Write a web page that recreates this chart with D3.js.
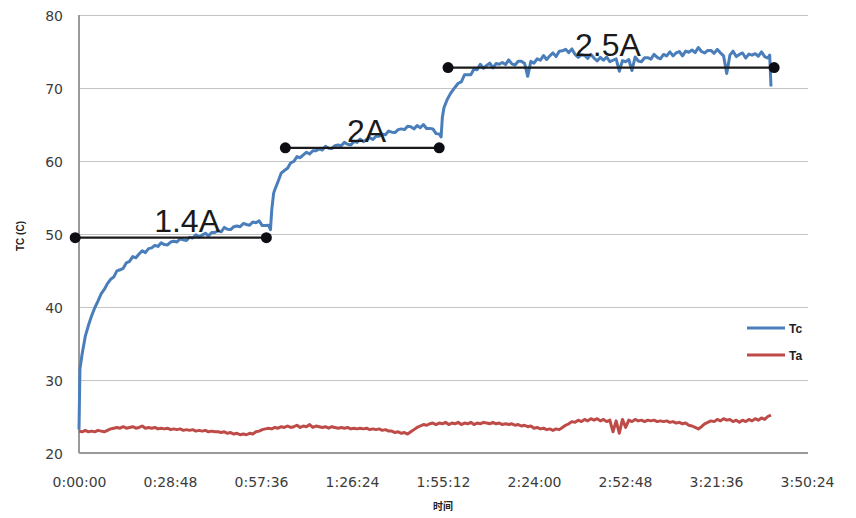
<!DOCTYPE html>
<html>
<head>
<meta charset="utf-8">
<script src="https://cdn.jsdelivr.net/npm/d3@7"></script>
<style>
  html, body { margin: 0; padding: 0; background: #fff; }
  svg { display: block; }
</style>
</head>
<body>
<svg id="chart" width="856" height="518"></svg>
<script>
// ---------- DATA (time in minutes, temperature in °C) ----------
const yTicks = [20, 30, 40, 50, 60, 70, 80];
const xTickMinutes = [0, 28.8, 57.6, 86.4, 115.2, 144, 172.8, 201.6, 230.4];
const xTickLabels = ["0:00:00", "0:28:48", "0:57:36", "1:26:24", "1:55:12", "2:24:00", "2:52:48", "3:21:36", "3:50:24"];

const tcData = [[0,23.2],[0.3,31.5],[1,33.6],[2,36.0],[3,37.5],[4,38.8],[5,39.9],[6,40.8],[7,41.8],[8,42.4],[9,43.2],
[10,43.8],[11,44.1],[12,44.95],[13,45.1],[14,45.3],[15,46.05],[16,46.25],[17,46.9],[18,46.75],[19,47.25],[20,47.7],[21,47.45],[22,48.0],[23,48.1],[24,48.45],[25,48.3],[26,48.8],[27,48.55],[28,48.5],[29,48.9],[30,49.0],[31,48.9],[32,49.35],[33,49.2],[34,49.1],[35,49.55],[36,49.45],[37,49.9],[38,49.55],[39,49.85],[40,50.1],[41,49.75],[42,50.2],[43,50.2],[44,50.45],[45,50.3],[46,50.9],[47,50.65],[48,50.6],[49,51.0],[50,51.1],[51,51.0],[52,51.45],[53,51.3],[54,51.2],[55,51.65],[56,51.55],[57,51.8],[58,51.15],[59,51.15],[60,51.2],[60.6,50.6],
[61,53.3],[61.6,55.6],[62,56.1],[63,57.2],[64,58.35],[65,58.7],[66,59.0],[67,59.75],[68,59.95],[69,60.6],[70,60.45],[71,60.85],[72,61.2],[73,60.95],[74,61.4],[75,61.4],[76,61.65],[77,61.5],[78,62.0],[79,61.75],[80,61.7],[81,62.1],[82,62.2],[83,62.1],[84,62.55],[85,62.3],[86,62.2],[87,62.65],[88,62.55],[89,63.0],[90,62.65],[91,62.95],[92,63.2],[93,62.95],[94,63.4],[95,63.4],[96,63.65],[97,63.6],[98,64.1],[99,63.95],[100,63.9],[101,64.3],[102,64.4],[103,64.3],[104,64.75],[105,64.7],[106,64.4],[107,64.85],[108,64.55],[109,65.0],[110,64.45],[111,64.45],[112,64.4],[113,63.75],[114,63.7],[114.6,63.3],
[115,66.0],[115.5,67.3],[116.5,68.4],[117.5,69.2],[118.5,69.8],[120,70.65],[121,70.85],[122,71.8],[123,71.8],[124,71.8],[125,72.6],[126,72.5],[127,73.25],[128,72.7],[129,73.1],[130,73.4],[131,72.75],[132,73.35],[133,73.25],[134,73.5],[135,73.2],[136,73.85],[137,73.3],[138,73.15],[139,73.65],[140,73.65],[141,73.4],[142,71.6],[143,73.65],[144,73.4],[145,74.0],[146,73.8],[147,74.45],[148,73.9],[149,74.4],[150,74.8],[151,74.3],[152,75.05],[153,75.1],[154,75.3],[155,74.85],[156,75.35],[157,74.6],[158,74.2],[159,74.55],[160,74.45],[161,74.05],[162,74.6],[163,74.1],[164,73.7],[165,74.2],[166,73.8],[167,74.25],[168,73.6],[169,73.8],[170,74.0],[171,72.3],[172,73.75],[173,73.6],[174,73.9],[175,72.4],[176,74.25],[177,73.7],[178,73.6],[179,74.15],[180,74.15],[181,73.95],[182,74.6],[183,74.2],[184,74.0],[185,74.6],[186,74.4],[187,74.95],[188,74.4],[189,74.8],[190,75.0],[191,74.4],[192,75.05],[193,74.9],[194,75.2],[195,74.85],[196,75.55],[197,75.0],[198,74.8],[199,75.15],[200,75.15],[201,74.75],[202,75.3],[203,74.8],[204,74.4],[205,72.0],[206,74.5],[207,75.05],[208,74.3],[209,74.6],[210,74.8],[211,74.1],[212,74.65],[213,74.5],[214,74.7],[215,74.35],[216,74.95],[217,74.3],[218,74.1],[218.6,74.5],[219,70.2]];

const taData = [[0,23.0],[1,22.9],[2,23.1],[3,22.9],[4,23.0],[5,22.9],[6,23.1],[7,23.0],[8,22.9],[9,23.1],[10,23.3],[11,23.4],[12,23.5],[13,23.4],[14,23.6],[15,23.4],[16,23.5],[17,23.6],[18,23.4],[19,23.5],[20,23.7],[21,23.4],[22,23.5],[23,23.4],[24,23.5],[25,23.3],[26,23.4],[27,23.3],[28,23.4],[29,23.2],[30,23.3],[31,23.2],[32,23.3],[33,23.1],[34,23.2],[35,23.1],[36,23.2],[37,23.0],[38,23.1],[39,23.0],[40,23.1],[41,22.9],[42,23.0],[43,22.9],[44,22.9],[45,22.8],[46,22.9],[47,22.7],[48,22.8],[49,22.6],[50,22.7],[51,22.5],[52,22.6],[53,22.5],[54,22.7],[55,22.6],[56,22.9],[57,23.0],[58,23.2],[59,23.3],[60,23.4],[61,23.3],[62,23.5],[63,23.4],[64,23.6],[65,23.5],[66,23.7],[67,23.5],[68,23.6],[69,23.8],[70,23.5],[71,23.7],[72,23.6],[73,23.9],[74,23.5],[75,23.7],[76,23.6],[77,23.5],[78,23.6],[79,23.4],[80,23.6],[81,23.5],[82,23.4],[83,23.5],[84,23.4],[85,23.5],[86,23.3],[87,23.4],[88,23.3],[89,23.4],[90,23.3],[91,23.4],[92,23.2],[93,23.3],[94,23.2],[95,23.3],[96,23.1],[97,23.2],[98,23.0],[99,23.0],[100,22.8],[101,22.9],[102,22.7],[103,22.8],[104,22.6],[105,22.9],[106,23.2],[107,23.5],[108,23.7],[109,23.9],[110,23.8],[111,24.0],[112,24.1],[113,23.9],[114,24.1],[115,24.0],[116,24.2],[117,23.9],[118,24.1],[119,24.0],[120,24.2],[121,23.9],[122,24.1],[123,24.0],[124,24.2],[125,23.9],[126,24.1],[127,24.0],[128,24.2],[129,24.1],[130,24.0],[131,24.2],[132,24.0],[133,24.1],[134,23.9],[135,24.0],[136,23.9],[137,24.0],[138,23.8],[139,23.9],[140,23.7],[141,23.8],[142,23.6],[143,23.7],[144,23.4],[145,23.5],[146,23.3],[147,23.4],[148,23.2],[149,23.3],[150,23.1],[151,23.3],[152,23.2],[153,23.5],[154,23.8],[155,24.0],[156,24.3],[157,24.2],[158,24.5],[159,24.3],[160,24.6],[161,24.4],[162,24.7],[163,24.5],[164,24.7],[165,24.4],[166,24.6],[167,24.3],[168,24.5],[169,22.9],[170,24.4],[171,22.7],[172,24.6],[173,23.5],[174,24.5],[175,24.3],[176,24.6],[177,24.4],[178,24.5],[179,24.3],[180,24.5],[181,24.4],[182,24.5],[183,24.3],[184,24.4],[185,24.3],[186,24.4],[187,24.2],[188,24.3],[189,24.1],[190,24.2],[191,24.0],[192,24.1],[193,23.8],[194,23.7],[195,23.5],[196,23.3],[197,23.6],[198,24.0],[199,24.2],[200,24.4],[201,24.3],[202,24.6],[203,24.4],[204,24.7],[205,24.5],[206,24.6],[207,24.3],[208,24.5],[209,24.2],[210,24.5],[211,24.3],[212,24.6],[213,24.4],[214,24.7],[215,24.5],[216,24.8],[217,24.6],[218,25.0],[219,25.2]];

// Current-step annotations: segment start/end (minutes) and level (°C)
const stepLabels = ["1.4A", "2A", "2.5A"];
const stepStart = [-1.2, 65.3, 116.8];
const stepEnd = [59.3, 114.0, 220.0];
const stepLevel = [49.5, 61.8, 72.8];
const stepLabelT = [34.2, 91.0, 167.4];
const stepLabelV = [50.3, 62.6, 74.4];

const seriesNames = ["Tc", "Ta"];
const seriesColors = ["#4a7ebb", "#be4b48"];

// ---------- CHART ----------
const svg = d3.select("#chart");
const margin = { left: 79, right: 856 - 807, top: 15, bottom: 518 - 453 };
const W = 856, H = 518;

const x = d3.scaleLinear().domain([0, 230.4]).range([margin.left, W - margin.right]);
const y = d3.scaleLinear().domain([20, 80]).range([H - margin.bottom, margin.top]);

const tickFont = "DejaVu Sans, sans-serif";

// Gridlines
const grid = svg.append("g")
  .attr("transform", `translate(${margin.left},0)`)
  .call(d3.axisLeft(y).tickValues(yTicks.slice(1)).tickSize(-(W - margin.right - margin.left + 1)).tickFormat(""));
grid.select(".domain").remove();
grid.selectAll(".tick line").attr("stroke", "#c4c4c4").attr("stroke-width", 1.2);

// Y axis labels
const yAxis = svg.append("g")
  .attr("transform", `translate(${margin.left},0)`)
  .call(d3.axisLeft(y).tickValues(yTicks).tickSize(0).tickPadding(16).tickFormat(d3.format("d")));
yAxis.select(".domain").remove();
yAxis.selectAll("text")
  .attr("font-family", tickFont).attr("font-size", 14).attr("fill", "#3c3c3c")
  .attr("dy", "0.4em");

// X axis labels
const xAxis = svg.append("g")
  .attr("transform", `translate(0,${y(20)})`)
  .call(d3.axisBottom(x).tickValues(xTickMinutes).tickSize(0).tickPadding(24)
    .tickFormat((d, i) => xTickLabels[i]));
xAxis.select(".domain").remove();
xAxis.selectAll("text")
  .attr("font-family", tickFont).attr("font-size", 14).attr("fill", "#3c3c3c");

// Axis lines
svg.append("line")
  .attr("x1", x(0)).attr("x2", x(0)).attr("y1", y(80)).attr("y2", y(20))
  .attr("stroke", "#9a9a9a").attr("stroke-width", 2);
svg.append("line")
  .attr("x1", x(0)).attr("x2", x(230.4) + 1).attr("y1", y(20)).attr("y2", y(20))
  .attr("stroke", "#9a9a9a").attr("stroke-width", 2);

// Axis titles
svg.append("text")
  .attr("transform", `translate(24,${(y(80) + y(20)) / 2 + 2}) rotate(-90)`)
  .attr("text-anchor", "middle")
  .attr("font-family", "Liberation Sans, Arial, sans-serif")
  .attr("font-weight", "bold").attr("font-size", 10).attr("fill", "#222")
  .text("TC (C)");
svg.append("text")
  .attr("x", (x(0) + x(230.4)) / 2).attr("y", 510)
  .attr("text-anchor", "middle")
  .attr("font-family", "Noto Sans CJK SC, sans-serif")
  .attr("font-weight", "bold").attr("font-size", 10).attr("fill", "#222")
  .text("时间");

// Series lines
const line = d3.line().x(d => x(d[0])).y(d => y(d[1]));
[taData, tcData].forEach((data, k) => {
  const idx = k === 0 ? 1 : 0;
  svg.append("path")
    .datum(data)
    .attr("d", line)
    .attr("fill", "none")
    .attr("stroke", seriesColors[idx])
    .attr("stroke-width", 3)
    .attr("stroke-linejoin", "round");
});

// Step annotations
const ann = svg.append("g");
stepLabels.forEach((lab, i) => {
  ann.append("line")
    .attr("x1", x(stepStart[i])).attr("x2", x(stepEnd[i]))
    .attr("y1", y(stepLevel[i])).attr("y2", y(stepLevel[i]))
    .attr("stroke", "#1a1a1a").attr("stroke-width", 2.2);
  [stepStart[i], stepEnd[i]].forEach(t => {
    ann.append("circle")
      .attr("cx", x(t)).attr("cy", y(stepLevel[i])).attr("r", 5.5)
      .attr("fill", "#0d0d14");
  });
  ann.append("text")
    .attr("x", x(stepLabelT[i])).attr("y", y(stepLabelV[i]))
    .attr("text-anchor", "middle")
    .attr("font-family", "Liberation Sans, Arial, sans-serif")
    .attr("font-size", 32).attr("fill", "#1a1a1a")
    .text(lab);
});

// Legend
const legend = svg.append("g");
const legY = [328, 355];
seriesNames.forEach((name, i) => {
  legend.append("line")
    .attr("x1", 747).attr("x2", 785).attr("y1", legY[i]).attr("y2", legY[i])
    .attr("stroke", seriesColors[i]).attr("stroke-width", 3);
  legend.append("text")
    .attr("x", 789).attr("y", legY[i] + 4.5)
    .attr("font-family", "Liberation Sans Narrow, Liberation Sans, Arial, sans-serif")
    .attr("font-weight", "bold").attr("font-size", 12).attr("fill", "#222")
    .text(name);
});
</script>
</body>
</html>
